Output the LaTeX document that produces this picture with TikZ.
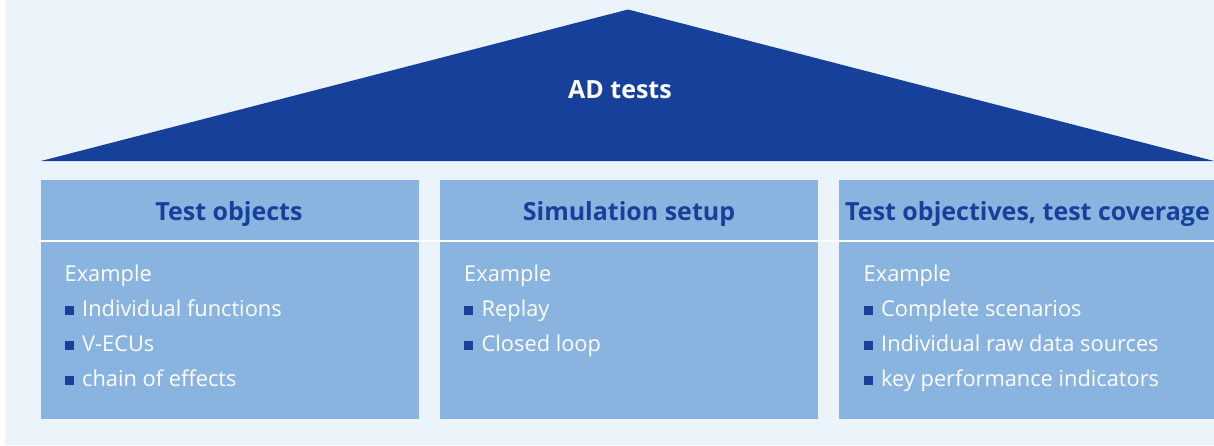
\documentclass[tikz,border=0pt]{standalone}
\usepackage{fontspec}
\setmainfont{Open Sans}
\definecolor{pagebg}{HTML}{EBF3FB}
\definecolor{navy}{HTML}{17409A}
\definecolor{panelblue}{HTML}{8AB4E0}

\tikzset{
  panel/.style={fill=panelblue, draw=none, inner sep=0, outer sep=0},
  heading/.style={text=navy, font=\bfseries\fontsize{25}{30}\selectfont, anchor=base, inner sep=0},
  entry/.style={text=white, font=\fontsize{21.8}{26}\selectfont, anchor=base west, inner sep=0},
  roof/.style={fill=navy, draw=none},
  title/.style={text=white, font=\bfseries\fontsize{25}{30}\selectfont, anchor=base, inner sep=0},
}
\newcommand\bsq{\textcolor{navy}{\rule[1.5pt]{9pt}{9pt}}\hspace{8.5pt}}

\begin{document}
\begin{tikzpicture}[x=1pt,y=-1pt]
  \useasboundingbox (0,0) rectangle (1214,445);
  \fill[pagebg] (5,0) rectangle (1214,445);

  % roof
  \coordinate (roofL) at (41,161);
  \coordinate (roofT) at (628,9.5);
  \coordinate (roofR) at (1214,161);
  \fill[roof] (roofL) -- (roofT) -- (roofR) -- cycle;
  \node[title] (adtests) at (620,98) {AD tests};

  % three pillars
  \fill[panel] (41,180) rectangle (419,419);
  \fill[panel] (440,180) rectangle (818,419);
  \fill[panel] (839,180) rectangle (1214,419);
  \fill[white] (38,239.6) rectangle (1214,241.6);

  \node[heading] (h1) at (229,220) {Test objects};
  \node[heading] (h2) at (629,220) {Simulation setup};
  \node[heading] (h3) at (1027.5,220) {Test objectives, test coverage};

  % first pillar
  \node[entry] (a0) at (64.5,281.7) {Example};
  \node[entry] (a1) at (64.5,316.7) {\bsq Individual functions};
  \node[entry] (a2) at (64.5,351.7) {\bsq V-ECUs};
  \node[entry] (a3) at (64.5,386.4) {\bsq chain of effects};

  % second pillar
  \node[entry] (b0) at (464,281.7) {Example};
  \node[entry] (b1) at (464,316.7) {\bsq Replay};
  \node[entry] (b2) at (464,351.7) {\bsq Closed loop};

  % third pillar
  \node[entry] (c0) at (863.5,281.7) {Example};
  \node[entry] (c1) at (863.5,316.7) {\bsq Complete scenarios};
  \node[entry] (c2) at (863.5,351.7) {\bsq Individual raw data sources};
  \node[entry] (c3) at (863.5,386.4) {\bsq key performance indicators};
\end{tikzpicture}
\end{document}
